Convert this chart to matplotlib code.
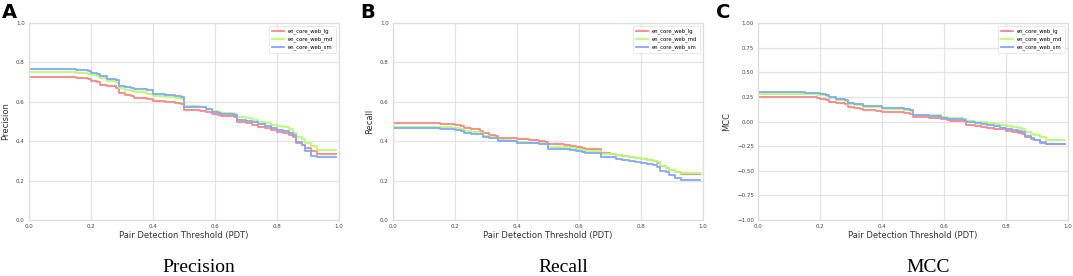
import numpy as np
import matplotlib.pyplot as plt

# thresholds where the curves step
pdt = [0.0, 0.15, 0.19, 0.20, 0.22, 0.23, 0.25, 0.28, 0.29, 0.31,
       0.33, 0.34, 0.38, 0.40, 0.44, 0.47, 0.49, 0.50, 0.55, 0.57,
       0.59, 0.61, 0.62, 0.66, 0.67, 0.70, 0.72, 0.74, 0.76, 0.78,
       0.80, 0.82, 0.84, 0.85, 0.86, 0.88, 0.89, 0.91, 0.93, 0.99]

models = ["en_core_web_lg", "en_core_web_md", "en_core_web_sm"]
colors = ["#ff8585", "#b4ff6e", "#80a8ff"]

# Precision
prec_lg = [0.725, 0.72, 0.715, 0.705, 0.70, 0.685, 0.678, 0.672, 0.645, 0.632,
           0.628, 0.62, 0.613, 0.605, 0.60, 0.595, 0.59, 0.56, 0.555, 0.55,
           0.54, 0.535, 0.53, 0.525, 0.495, 0.49, 0.48, 0.473, 0.465, 0.458,
           0.445, 0.44, 0.43, 0.42, 0.39, 0.38, 0.365, 0.35, 0.335, 0.335]
prec_md = [0.752, 0.745, 0.74, 0.735, 0.73, 0.72, 0.705, 0.695, 0.672, 0.66,
           0.655, 0.648, 0.64, 0.63, 0.625, 0.62, 0.615, 0.578, 0.575, 0.565,
           0.555, 0.55, 0.545, 0.54, 0.525, 0.52, 0.51, 0.50, 0.49, 0.48,
           0.475, 0.47, 0.46, 0.44, 0.42, 0.41, 0.39, 0.375, 0.355, 0.355]
prec_sm = [0.768, 0.762, 0.755, 0.745, 0.74, 0.73, 0.718, 0.71, 0.678, 0.675,
           0.672, 0.665, 0.66, 0.642, 0.635, 0.628, 0.622, 0.575, 0.572, 0.562,
           0.55, 0.545, 0.54, 0.535, 0.51, 0.505, 0.495, 0.485, 0.475, 0.465,
           0.455, 0.45, 0.44, 0.43, 0.395, 0.38, 0.35, 0.325, 0.318, 0.318]

# Recall
rec_lg = [0.49, 0.488, 0.485, 0.48, 0.475, 0.465, 0.46, 0.45, 0.44, 0.432,
          0.428, 0.418, 0.415, 0.41, 0.405, 0.40, 0.397, 0.385, 0.382, 0.378,
          0.37, 0.365, 0.362, 0.36, 0.34, 0.337, 0.33, 0.326, 0.32, 0.315,
          0.308, 0.305, 0.30, 0.29, 0.272, 0.265, 0.255, 0.245, 0.235, 0.235]
rec_md = [0.473, 0.47, 0.468, 0.465, 0.46, 0.45, 0.445, 0.44, 0.425, 0.42,
          0.418, 0.405, 0.402, 0.395, 0.392, 0.39, 0.388, 0.37, 0.369, 0.368,
          0.36, 0.355, 0.352, 0.35, 0.337, 0.335, 0.328, 0.325, 0.32, 0.315,
          0.31, 0.305, 0.30, 0.295, 0.275, 0.265, 0.255, 0.245, 0.237, 0.237]
rec_sm = [0.465, 0.462, 0.46, 0.455, 0.452, 0.442, 0.438, 0.435, 0.42, 0.417,
          0.415, 0.403, 0.40, 0.392, 0.39, 0.387, 0.385, 0.36, 0.358, 0.355,
          0.348, 0.345, 0.342, 0.34, 0.322, 0.32, 0.31, 0.306, 0.30, 0.296,
          0.288, 0.285, 0.278, 0.27, 0.25, 0.245, 0.23, 0.212, 0.205, 0.205]

# MCC
mcc_lg = [0.25, 0.245, 0.24, 0.23, 0.22, 0.20, 0.19, 0.18, 0.15, 0.135,
          0.13, 0.115, 0.11, 0.10, 0.095, 0.088, 0.08, 0.045, 0.04, 0.035,
          0.025, 0.015, 0.008, 0.005, -0.04, -0.045, -0.055, -0.065, -0.075, -0.08,
          -0.10, -0.105, -0.115, -0.13, -0.16, -0.175, -0.19, -0.21, -0.225, -0.225]
mcc_md = [0.28, 0.275, 0.27, 0.265, 0.255, 0.24, 0.22, 0.21, 0.175, 0.17,
          0.165, 0.15, 0.145, 0.13, 0.125, 0.115, 0.105, 0.07, 0.068, 0.065,
          0.05, 0.04, 0.035, 0.03, 0.005, 0.0, -0.01, -0.02, -0.03, -0.04,
          -0.05, -0.055, -0.065, -0.08, -0.11, -0.125, -0.14, -0.16, -0.19, -0.19]
mcc_sm = [0.295, 0.29, 0.285, 0.275, 0.265, 0.25, 0.225, 0.215, 0.185, 0.18,
          0.175, 0.16, 0.155, 0.14, 0.135, 0.125, 0.115, 0.065, 0.06, 0.055,
          0.04, 0.03, 0.025, 0.02, -0.01, -0.015, -0.03, -0.04, -0.05, -0.065,
          -0.08, -0.085, -0.095, -0.11, -0.15, -0.165, -0.19, -0.215, -0.225, -0.225]

panels = [
    ("A", "Precision", "Precision", [prec_lg, prec_md, prec_sm], (0, 1), np.arange(0, 1.01, 0.2), "%.1f"),
    ("B", "Recall", "Recall", [rec_lg, rec_md, rec_sm], (0, 1), np.arange(0, 1.01, 0.2), "%.1f"),
    ("C", "MCC", "MCC", [mcc_lg, mcc_md, mcc_sm], (-1, 1), np.arange(-1, 1.01, 0.25), "%.2f"),
]

lefts = [29, 393, 758]
letter_x = [2, 360, 716]

fig = plt.figure(figsize=(10.73, 2.76), dpi=100)
W, H = 1073, 276

for (letter, ylab, title, series, ylim, yticks, fmt), left, lx in zip(panels, lefts, letter_x):
    ax = fig.add_axes([left / W, 1 - 220 / H, 310 / W, 197 / H])
    for vals, name, c in zip(series, models, colors):
        ax.plot(pdt, vals, drawstyle="steps-post", color=c, lw=1.3, label=name)
    ax.set_xlim(0, 1)
    ax.set_ylim(*ylim)
    ax.set_xticks(np.arange(0, 1.01, 0.2))
    ax.set_yticks(yticks)
    ax.set_xticklabels(["%.1f" % t for t in np.arange(0, 1.01, 0.2)])
    ax.set_yticklabels([(fmt % t).replace("-", "\u2212") for t in yticks])
    ax.tick_params(length=0, labelsize=4, colors="#444444", pad=3)
    ax.grid(True, color="#e3e3e3", lw=0.9)
    ax.set_axisbelow(True)
    for s in ax.spines.values():
        s.set_color("#dddddd")
        s.set_linewidth(0.9)
    ax.set_xlabel("Pair Detection Threshold (PDT)", fontsize=6, color="#333333", labelpad=1)
    ax.set_ylabel(ylab, fontsize=6, color="#333333", labelpad=4)
    leg = ax.legend(loc="upper right", fontsize=3.8, frameon=True, handlelength=2.2,
                    borderpad=0.6, labelspacing=0.4)
    leg.get_frame().set_edgecolor("#dddddd")
    leg.get_frame().set_linewidth(0.6)
    fig.text(lx / W, 1 - 3 / H, letter, fontsize=14, fontweight="bold", va="top", ha="left")
    fig.text((left + 170) / W, 1 - 267 / H, title, fontsize=14, family="Liberation Serif",
             ha="center", va="center")

fig.savefig("out.png", dpi=100)
